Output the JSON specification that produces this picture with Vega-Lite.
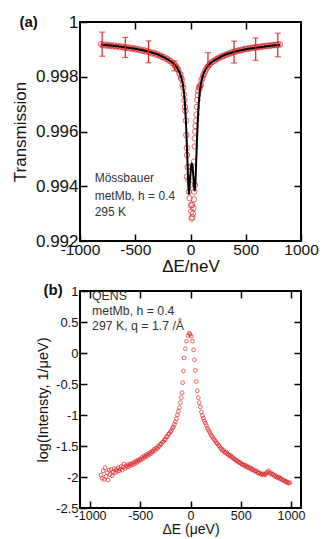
{
  "$schema": "https://vega.github.io/schema/vega-lite/v6.json",
  "background": "white",
  "padding": {"left": 10, "top": 12, "right": 5, "bottom": 5},
  "config": {
    "view": {"stroke": "black", "strokeWidth": 2},
    "font": "Liberation Sans",
    "axis": {"grid": false, "domain": false, "tickColor": "black", "tickWidth": 1.5, "tickSize": -7, "labelFont": "Liberation Sans", "titleFont": "Liberation Sans", "titleFontWeight": "normal", "labelColor": "#111", "titleColor": "#111", "labelFlush": false, "labelOverlap": false, "labelBound": false},
    "concat": {"spacing": 6}
  },
  "datasets": {
    "mossCircles": [
      {"x":-810,"t":0.99919},{"x":-795,"t":0.99915},{"x":-780,"t":0.99918},{"x":-765,"t":0.99914},{"x":-750,"t":0.99916},{"x":-735,"t":0.99913},{"x":-720,"t":0.99915},{"x":-705,"t":0.99911},{"x":-690,"t":0.99914},{"x":-675,"t":0.99910},{"x":-660,"t":0.99912},{"x":-645,"t":0.99908},{"x":-630,"t":0.99911},{"x":-615,"t":0.99907},{"x":-600,"t":0.99909},{"x":-585,"t":0.99905},{"x":-570,"t":0.99908},{"x":-555,"t":0.99904},{"x":-540,"t":0.99906},{"x":-525,"t":0.99901},{"x":-510,"t":0.99904},{"x":-495,"t":0.99900},{"x":-480,"t":0.99902},{"x":-465,"t":0.99897},{"x":-450,"t":0.99899},{"x":-435,"t":0.99894},{"x":-420,"t":0.99897},{"x":-405,"t":0.99892},{"x":-390,"t":0.99894},{"x":-375,"t":0.99889},{"x":-360,"t":0.99890},{"x":-345,"t":0.99885},{"x":-330,"t":0.99887},{"x":-315,"t":0.99881},{"x":-300,"t":0.99883},{"x":-285,"t":0.99877},{"x":-270,"t":0.99878},{"x":-255,"t":0.99872},{"x":-240,"t":0.99872},{"x":-225,"t":0.99866},{"x":-210,"t":0.99866},{"x":-195,"t":0.99859},{"x":-180,"t":0.99858},{"x":-165,"t":0.99850},{"x":-150,"t":0.99848},{"x":-140,"t":0.99840},{"x":-130,"t":0.99837},{"x":-120,"t":0.99828},{"x":-110,"t":0.99826},{"x":-100,"t":0.99812},{"x":-92,"t":0.99808},{"x":-85,"t":0.99795},{"x":-78,"t":0.99790},{"x":-72,"t":0.99772},
      {"x":-65,"t":0.99760},{"x":-60,"t":0.99736},{"x":-55,"t":0.99714},{"x":-50,"t":0.99690},{"x":-46,"t":0.99675},{"x":-42,"t":0.99640},{"x":-38,"t":0.99587},{"x":-34,"t":0.99540},{"x":-32,"t":0.99514},{"x":-32,"t":0.99435},{"x":-26,"t":0.99470},{"x":-20,"t":0.99425},{"x":-14,"t":0.99380},{"x":-8,"t":0.99356},{"x":0,"t":0.99405},{"x":2,"t":0.99471},{"x":8,"t":0.99307},{"x":14,"t":0.99332},{"x":17,"t":0.99287},{"x":4,"t":0.99330},{"x":10,"t":0.99282},{"x":22,"t":0.99300},{"x":26,"t":0.99320},{"x":30,"t":0.99352},{"x":34,"t":0.99380},{"x":40,"t":0.99405},{"x":32,"t":0.99490},{"x":38,"t":0.99545},{"x":38,"t":0.99575},{"x":42,"t":0.99600},{"x":46,"t":0.99620},{"x":50,"t":0.99640},{"x":54,"t":0.99662},{"x":58,"t":0.99690},{"x":62,"t":0.99715},{"x":67,"t":0.99733},{"x":72,"t":0.99748},{"x":78,"t":0.99762},{"x":84,"t":0.99758},{"x":88,"t":0.99768},
      {"x":92,"t":0.99770},{"x":100,"t":0.99788},{"x":108,"t":0.99795},{"x":116,"t":0.99806},{"x":124,"t":0.99812},{"x":134,"t":0.99822},{"x":144,"t":0.99830},{"x":155,"t":0.99836},{"x":168,"t":0.99843},{"x":180,"t":0.99848},{"x":195,"t":0.99854},{"x":210,"t":0.99857},{"x":225,"t":0.99862},{"x":240,"t":0.99865},{"x":255,"t":0.99869},{"x":270,"t":0.99871},{"x":285,"t":0.99875},{"x":300,"t":0.99876},{"x":315,"t":0.99880},{"x":330,"t":0.99881},{"x":345,"t":0.99885},{"x":360,"t":0.99885},{"x":375,"t":0.99889},{"x":390,"t":0.99889},{"x":405,"t":0.99893},{"x":420,"t":0.99893},{"x":435,"t":0.99896},{"x":450,"t":0.99896},{"x":465,"t":0.99899},{"x":480,"t":0.99899},{"x":495,"t":0.99902},{"x":510,"t":0.99901},{"x":525,"t":0.99904},{"x":540,"t":0.99903},{"x":555,"t":0.99906},{"x":570,"t":0.99905},{"x":585,"t":0.99908},{"x":600,"t":0.99907},{"x":615,"t":0.99909},{"x":630,"t":0.99909},{"x":645,"t":0.99911},{"x":660,"t":0.99910},{"x":675,"t":0.99913},{"x":690,"t":0.99912},{"x":705,"t":0.99914},{"x":720,"t":0.99913},{"x":735,"t":0.99915},{"x":750,"t":0.99915},{"x":765,"t":0.99916},{"x":780,"t":0.99916},{"x":795,"t":0.99918},{"x":810,"t":0.99918}
    ],
    "mossFit": [
      {"x":-810,"t":0.99917},{"x":-700,"t":0.99913},{"x":-600,"t":0.99908},{"x":-500,"t":0.99902},{"x":-400,"t":0.99894},{"x":-300,"t":0.99882},{"x":-250,"t":0.99873},{"x":-200,"t":0.99862},{"x":-160,"t":0.99851},{"x":-130,"t":0.99838},{"x":-110,"t":0.99825},{"x":-95,"t":0.99812},{"x":-80,"t":0.99792},{"x":-70,"t":0.99775},{"x":-60,"t":0.99745},{"x":-50,"t":0.99700},{"x":-40,"t":0.99625},{"x":-32,"t":0.99540},{"x":-25,"t":0.99460},{"x":-20,"t":0.99405},{"x":-14,"t":0.99370},{"x":-8,"t":0.99400},{"x":0,"t":0.99445},{"x":6,"t":0.99475},{"x":12,"t":0.99485},{"x":18,"t":0.99475},{"x":24,"t":0.99445},{"x":32,"t":0.99400},{"x":38,"t":0.99382},{"x":44,"t":0.99405},{"x":49,"t":0.99460},{"x":56,"t":0.99540},{"x":64,"t":0.99625},{"x":74,"t":0.99700},{"x":84,"t":0.99745},{"x":94,"t":0.99775},{"x":104,"t":0.99792},{"x":119,"t":0.99812},{"x":134,"t":0.99825},{"x":154,"t":0.99838},{"x":184,"t":0.99851},{"x":224,"t":0.99862},{"x":274,"t":0.99873},{"x":324,"t":0.99882},{"x":424,"t":0.99894},{"x":524,"t":0.99902},{"x":624,"t":0.99908},{"x":724,"t":0.99913},{"x":812,"t":0.99917}
    ],
    "mossErr": [
      {"x":-800,"lo":0.99875,"hi":0.99963},{"x":-590,"lo":0.99870,"hi":0.99944},{"x":-380,"lo":0.99851,"hi":0.99931},{"x":-145,"lo":0.99822,"hi":0.99858},{"x":158,"lo":0.99837,"hi":0.99888},{"x":394,"lo":0.99850,"hi":0.99930},{"x":590,"lo":0.99860,"hi":0.99942},{"x":790,"lo":0.99873,"hi":0.99959}
    ],
    "qens": [
      {"e":-890,"i":-1.97},{"e":-880,"i":-2.02},{"e":-870,"i":-1.90},{"e":-860,"i":-2.04},{"e":-850,"i":-1.85},{"e":-840,"i":-1.99},{"e":-830,"i":-1.93},{"e":-820,"i":-2.05},{"e":-810,"i":-1.89},{"e":-800,"i":-1.96},{"e":-790,"i":-1.88},{"e":-780,"i":-1.98},{"e":-770,"i":-1.92},{"e":-760,"i":-1.86},{"e":-750,"i":-1.93},{"e":-740,"i":-1.88},{"e":-730,"i":-1.91},{"e":-720,"i":-1.85},{"e":-710,"i":-1.90},{"e":-700,"i":-1.87},{"e":-690,"i":-1.83},{"e":-680,"i":-1.89},{"e":-670,"i":-1.84},{"e":-660,"i":-1.79},{"e":-650,"i":-1.86},{"e":-640,"i":-1.82},{"e":-630,"i":-1.84},{"e":-620,"i":-1.80},{"e":-610,"i":-1.83},{"e":-600,"i":-1.79},{"e":-590,"i":-1.81},{"e":-580,"i":-1.78},{"e":-570,"i":-1.80},{"e":-560,"i":-1.76},{"e":-550,"i":-1.78},{"e":-540,"i":-1.74},{"e":-530,"i":-1.76},{"e":-520,"i":-1.72},{"e":-510,"i":-1.74},{"e":-500,"i":-1.71},{"e":-490,"i":-1.72},{"e":-480,"i":-1.68},{"e":-470,"i":-1.70},{"e":-460,"i":-1.66},{"e":-450,"i":-1.68},{"e":-440,"i":-1.64},{"e":-430,"i":-1.66},{"e":-420,"i":-1.62},{"e":-410,"i":-1.64},{"e":-400,"i":-1.60},{"e":-390,"i":-1.62},{"e":-380,"i":-1.58},{"e":-370,"i":-1.59},{"e":-360,"i":-1.55},{"e":-350,"i":-1.57},{"e":-340,"i":-1.53},{"e":-330,"i":-1.54},{"e":-320,"i":-1.50},{"e":-310,"i":-1.51},{"e":-300,"i":-1.47},{"e":-290,"i":-1.47},{"e":-280,"i":-1.44},{"e":-270,"i":-1.43},{"e":-260,"i":-1.40},{"e":-250,"i":-1.39},{"e":-240,"i":-1.35},{"e":-230,"i":-1.35},{"e":-220,"i":-1.31},{"e":-210,"i":-1.30},{"e":-200,"i":-1.27},{"e":-190,"i":-1.25},{"e":-180,"i":-1.21},{"e":-170,"i":-1.19},{"e":-160,"i":-1.15},{"e":-150,"i":-1.11},{"e":-140,"i":-1.06},{"e":-130,"i":-1.00},{"e":-120,"i":-0.94},{"e":-110,"i":-0.88},{"e":-100,"i":-0.80},
      {"e":-92,"i":-0.72},{"e":-84,"i":-0.64},{"e":-77,"i":-0.48},{"e":-70,"i":-0.29},{"e":-63,"i":-0.08},{"e":-52,"i":0.07},{"e":-40,"i":0.19},{"e":-25,"i":0.28},{"e":-12,"i":0.32},{"e":-5,"i":0.30},{"e":8,"i":0.27},{"e":20,"i":0.19},{"e":30,"i":0.05},{"e":40,"i":-0.11},{"e":48,"i":-0.28},{"e":58,"i":-0.46},{"e":68,"i":-0.61},{"e":78,"i":-0.72},{"e":88,"i":-0.80},
      {"e":98,"i":-0.87},{"e":108,"i":-0.95},{"e":118,"i":-1.01},{"e":128,"i":-1.05},{"e":138,"i":-1.10},{"e":148,"i":-1.13},{"e":158,"i":-1.17},{"e":168,"i":-1.21},{"e":178,"i":-1.24},{"e":188,"i":-1.27},{"e":198,"i":-1.30},{"e":208,"i":-1.33},{"e":218,"i":-1.35},{"e":228,"i":-1.38},{"e":238,"i":-1.40},{"e":248,"i":-1.42},{"e":258,"i":-1.45},{"e":268,"i":-1.46},{"e":278,"i":-1.49},{"e":288,"i":-1.50},{"e":298,"i":-1.53},{"e":308,"i":-1.55},{"e":318,"i":-1.57},{"e":328,"i":-1.56},{"e":338,"i":-1.60},{"e":348,"i":-1.61},{"e":358,"i":-1.60},{"e":368,"i":-1.63},{"e":378,"i":-1.64},{"e":388,"i":-1.66},{"e":398,"i":-1.65},{"e":408,"i":-1.68},{"e":418,"i":-1.68},{"e":428,"i":-1.70},{"e":438,"i":-1.71},{"e":448,"i":-1.72},{"e":458,"i":-1.74},{"e":468,"i":-1.74},{"e":478,"i":-1.76},{"e":488,"i":-1.77},{"e":498,"i":-1.77},{"e":508,"i":-1.79},{"e":518,"i":-1.80},{"e":528,"i":-1.80},{"e":538,"i":-1.82},{"e":548,"i":-1.81},{"e":558,"i":-1.84},{"e":568,"i":-1.83},{"e":578,"i":-1.85},{"e":588,"i":-1.86},{"e":598,"i":-1.85},{"e":608,"i":-1.88},{"e":618,"i":-1.87},{"e":628,"i":-1.89},{"e":638,"i":-1.90},{"e":648,"i":-1.91},{"e":658,"i":-1.90},{"e":668,"i":-1.93},{"e":678,"i":-1.94},{"e":688,"i":-1.93},{"e":698,"i":-1.95},{"e":708,"i":-1.96},{"e":718,"i":-1.95},{"e":728,"i":-1.97},{"e":738,"i":-1.95},{"e":748,"i":-1.96},{"e":758,"i":-1.93},{"e":768,"i":-1.92},{"e":778,"i":-1.90},{"e":788,"i":-1.94},{"e":798,"i":-1.93},{"e":808,"i":-1.96},{"e":818,"i":-1.95},{"e":828,"i":-1.97},{"e":838,"i":-1.99},{"e":848,"i":-1.98},{"e":858,"i":-2.00},{"e":868,"i":-2.01},{"e":878,"i":-2.00},{"e":888,"i":-2.03},{"e":898,"i":-2.02},{"e":908,"i":-2.04},{"e":918,"i":-2.05},{"e":928,"i":-2.05},{"e":938,"i":-2.07},{"e":948,"i":-2.07},{"e":958,"i":-2.08},{"e":968,"i":-2.09},{"e":978,"i":-2.10},{"e":988,"i":-2.09}
    ]
  },
  "vconcat": [
    {
      "title": {"text": "(a)", "anchor": "start", "frame": "bounds", "fontSize": 15, "fontWeight": "bold", "color": "#111", "dx": 8, "dy": 16.5, "offset": 0},
      "width": 221,
      "height": 219,
      "layer": [
        {
          "data": {"name": "mossCircles"},
          "mark": {"type": "point", "shape": "circle", "filled": false, "color": "#dd2222", "size": 30, "strokeWidth": 1},
          "encoding": {
            "x": {"field": "x", "type": "quantitative", "scale": {"domain": [-1000, 1000], "nice": false, "zero": false},
                  "axis": {"orient": "bottom", "values": [-1000, -500, 0, 500, 1000], "labelExpr": "toString(datum.value)", "labelFontSize": 15.5, "labelPadding": 8, "title": "ΔE/neV", "titleFontSize": 17, "titlePadding": 1}},
            "y": {"field": "t", "type": "quantitative", "scale": {"domain": [0.992, 1], "nice": false, "zero": false},
                  "axis": {"orient": "left", "values": [0.992, 0.994, 0.996, 0.998, 1], "labelExpr": "toString(datum.value)", "labelFontSize": 17, "labelPadding": 9, "title": "Transmission", "titleFontSize": 17, "titlePadding": 6}}
          }
        },
        {
          "data": {"name": "mossFit"},
          "mark": {"type": "line", "color": "black", "strokeWidth": 2},
          "encoding": {
            "x": {"field": "x", "type": "quantitative", "scale": {"domain": [-1000, 1000], "nice": false, "zero": false},
                  "axis": {"orient": "top", "values": [-500, 0, 500], "labels": false, "title": null}},
            "y": {"field": "t", "type": "quantitative", "scale": {"domain": [0.992, 1], "nice": false, "zero": false},
                  "axis": {"orient": "right", "values": [0.994, 0.996, 0.998], "labels": false, "title": null}}
          }
        },
        {
          "data": {"name": "mossErr"},
          "mark": {"type": "errorbar", "ticks": {"size": 6, "thickness": 1.2}, "color": "#dd2222", "thickness": 1.2},
          "encoding": {
            "x": {"field": "x", "type": "quantitative", "axis": null},
            "y": {"field": "lo", "type": "quantitative", "axis": null},
            "y2": {"field": "hi"}
          }
        },
        {
          "data": {"values": [
            {"x": -867, "t": 0.99430, "label": "Mössbauer"},
            {"x": -867, "t": 0.99364, "label": "metMb, h = 0.4"},
            {"x": -867, "t": 0.99306, "label": "295 K"}
          ]},
          "mark": {"type": "text", "align": "left", "baseline": "middle", "fontSize": 12, "color": "#333"},
          "encoding": {
            "x": {"field": "x", "type": "quantitative", "axis": null},
            "y": {"field": "t", "type": "quantitative", "axis": null},
            "text": {"field": "label"}
          }
        }
      ],
      "resolve": {"axis": {"x": "independent", "y": "independent"}}
    },
    {
      "title": {"text": "(b)", "anchor": "start", "frame": "bounds", "fontSize": 15, "fontWeight": "bold", "color": "#111", "dx": 8, "dy": 13, "offset": 0},
      "width": 221,
      "height": 217,
      "layer": [
        {
          "data": {"name": "qens"},
          "mark": {"type": "point", "shape": "circle", "filled": false, "color": "#dd2222", "size": 14, "strokeWidth": 1},
          "encoding": {
            "x": {"field": "e", "type": "quantitative", "scale": {"domain": [-1100, 1100], "nice": false, "zero": false},
                  "axis": {"orient": "bottom", "values": [-1000, -500, 0, 500, 1000], "labelExpr": "toString(datum.value)", "labelFontSize": 12.5, "labelPadding": 8, "title": "ΔE (μeV)", "titleFontSize": 14, "titlePadding": 1}},
            "y": {"field": "i", "type": "quantitative", "scale": {"domain": [-2.5, 1], "nice": false, "zero": false},
                  "axis": {"orient": "left", "values": [-2.5, -2, -1.5, -1, -0.5, 0, 0.5, 1], "labelExpr": "toString(datum.value)", "labelFontSize": 13, "labelPadding": 9, "title": "log(Intensty, 1/μeV)", "titleFontSize": 14.5, "titlePadding": 5}}
          }
        },
        {
          "data": {"values": [
            {"e": -980, "i": 0.92, "label": "QENS"},
            {"e": -980, "i": 0.68, "label": "metMb,  h = 0.4"},
            {"e": -980, "i": 0.44, "label": "297 K, q = 1.7 /Å"}
          ]},
          "mark": {"type": "text", "align": "left", "baseline": "middle", "fontSize": 12.3, "color": "#333"},
          "encoding": {
            "x": {"field": "e", "type": "quantitative", "scale": {"domain": [-1100, 1100], "nice": false, "zero": false},
                  "axis": {"orient": "top", "values": [-1000, -500, 0, 500, 1000], "labels": false, "title": null}},
            "y": {"field": "i", "type": "quantitative", "scale": {"domain": [-2.5, 1], "nice": false, "zero": false},
                  "axis": {"orient": "right", "values": [-2, -1.5, -1, -0.5, 0, 0.5], "labels": false, "title": null}},
            "text": {"field": "label"}
          }
        }
      ],
      "resolve": {"axis": {"x": "independent", "y": "independent"}}
    }
  ]
}
